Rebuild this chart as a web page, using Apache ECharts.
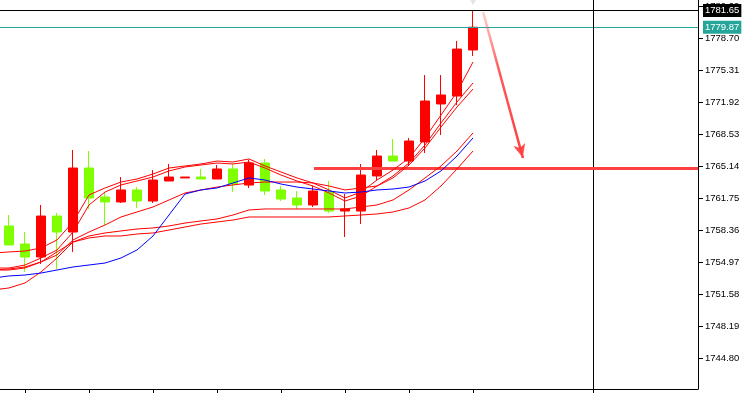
<!DOCTYPE html>
<html>
<head>
<meta charset="utf-8">
<script src="https://cdn.jsdelivr.net/npm/echarts@6/dist/echarts.min.js"></script>
<style>
  html, body { margin: 0; padding: 0; background: #fff; }
  #main { width: 754px; height: 393px; }
</style>
</head>
<body>
<div id="main"></div>
<script>
// candles: [open, close, low, high], red = up, green = down
const candles = [
  [1758.84, 1756.83, 1756.83, 1760.00],
  [1756.93, 1755.56, 1753.97, 1758.20],
  [1755.56, 1759.89, 1754.82, 1761.06],
  [1759.89, 1758.20, 1754.29, 1760.21],
  [1758.20, 1764.97, 1756.09, 1766.88],
  [1764.97, 1761.80, 1760.64, 1766.77],
  [1761.91, 1761.38, 1758.94, 1762.43],
  [1761.38, 1762.65, 1761.27, 1764.02],
  [1762.65, 1761.48, 1760.74, 1762.96],
  [1761.48, 1763.70, 1761.27, 1764.76],
  [1763.60, 1764.02, 1763.60, 1765.40],
  [1763.92, 1764.02, 1763.92, 1764.02],
  [1764.02, 1763.81, 1763.81, 1764.87],
  [1763.81, 1764.87, 1763.81, 1765.29],
  [1764.87, 1763.28, 1762.43, 1765.40],
  [1763.17, 1765.50, 1762.86, 1765.82],
  [1765.50, 1762.54, 1762.12, 1765.93],
  [1762.65, 1761.69, 1761.48, 1763.07],
  [1761.80, 1761.06, 1760.64, 1762.54],
  [1761.06, 1762.54, 1760.85, 1763.07],
  [1762.43, 1760.42, 1760.21, 1763.60],
  [1760.42, 1760.64, 1757.67, 1762.22],
  [1760.42, 1764.23, 1759.05, 1765.40],
  [1764.13, 1766.24, 1763.70, 1766.88],
  [1766.24, 1765.71, 1765.71, 1768.04],
  [1765.71, 1767.83, 1765.19, 1768.15],
  [1767.73, 1772.06, 1766.56, 1774.81],
  [1771.75, 1772.70, 1768.46, 1774.81],
  [1772.59, 1777.56, 1771.64, 1778.41],
  [1777.46, 1779.87, 1776.82, 1781.65]
];

// indicator lines, first value belongs to the bar just left of the view
const red1 = [1755.98, 1756.09, 1756.19, 1756.51, 1757.36, 1759.26, 1762.12, 1762.86, 1763.49, 1763.81, 1764.34, 1764.97, 1765.19, 1765.40, 1765.71, 1765.61, 1765.93, 1765.19, 1764.55, 1763.92, 1763.39, 1762.65, 1761.80, 1762.43, 1763.70, 1764.76, 1766.03, 1768.15, 1770.58, 1773.02, 1776.19];
const red2 = [1754.39, 1754.39, 1754.71, 1755.45, 1756.30, 1758.20, 1761.06, 1762.43, 1763.18, 1763.60, 1764.02, 1764.66, 1765.08, 1765.29, 1765.50, 1765.40, 1765.61, 1764.97, 1764.23, 1763.60, 1763.07, 1762.33, 1761.48, 1762.01, 1763.07, 1764.13, 1765.50, 1767.41, 1769.74, 1771.96, 1773.97];
const red3 = [1754.18, 1754.18, 1754.39, 1755.03, 1755.77, 1757.36, 1758.20, 1758.94, 1759.79, 1760.32, 1760.85, 1761.59, 1762.33, 1762.65, 1762.96, 1763.18, 1763.39, 1763.49, 1763.49, 1763.49, 1763.39, 1763.07, 1762.65, 1762.86, 1763.07, 1763.92, 1765.29, 1767.09, 1769.31, 1771.43, 1773.33];
const red4 = [1754.18, 1754.29, 1754.50, 1755.03, 1756.09, 1757.14, 1757.78, 1758.10, 1758.31, 1758.52, 1758.63, 1758.84, 1759.15, 1759.37, 1759.58, 1760.00, 1760.53, 1760.64, 1760.64, 1760.64, 1760.64, 1760.64, 1760.64, 1760.85, 1761.06, 1761.59, 1762.65, 1763.92, 1765.19, 1766.77, 1768.68];
const red5 = [1752.07, 1752.28, 1752.81, 1753.97, 1755.45, 1757.14, 1757.57, 1757.78, 1757.78, 1757.99, 1758.10, 1758.41, 1758.73, 1759.05, 1759.26, 1759.47, 1759.79, 1759.79, 1759.79, 1759.79, 1759.79, 1759.79, 1759.90, 1760.00, 1760.11, 1760.32, 1760.74, 1761.59, 1763.07, 1764.87, 1766.77];
const blue = [1753.33, 1753.55, 1753.65, 1753.86, 1754.18, 1754.50, 1754.71, 1754.92, 1755.45, 1756.30, 1757.78, 1760.00, 1762.22, 1762.65, 1762.86, 1763.39, 1763.92, 1763.70, 1763.28, 1762.96, 1762.75, 1762.54, 1762.33, 1762.43, 1762.65, 1762.75, 1762.96, 1763.60, 1764.66, 1766.24, 1768.15];

const priceTicks = [1744.80, 1748.19, 1751.58, 1754.97, 1758.36, 1761.75, 1765.14, 1768.53, 1771.92, 1775.31, 1778.70, 1782.09];
const timeTicks = [1, 5, 9, 13, 17, 21, 25, 29, 36.5];

const crossPrice = 1781.65;
const crossBar = 36.5;
const bidPrice = 1779.87;
const levelPrice = 1765.0;
const levelFrom = 19.06;
const arrowFrom = [29.63, 1781.48];
const arrowTo = [32.12, 1766.03];

const yMin = 1741.59, yMax = 1782.75;
const xMin = -0.5625, xMax = 43.0625;

function toLine(arr) {
  return arr.map((v, i) => [i - 1, v]);
}

function lineSeries(data, color) {
  return {
    type: 'line',
    data: toLine(data),
    showSymbol: false,
    symbol: 'none',
    lineStyle: { color: color, width: 1 },
    z: 5,
    animation: false,
    silent: true
  };
}

const priceLabel = {
  show: true, position: 'end', distance: 5,
  color: '#fff',
  fontFamily: 'Liberation Sans', fontSize: 9.5, padding: [2, 2, 1, 2]
};

const chart = echarts.init(document.getElementById('main'), null, { renderer: 'canvas' });

const option = {
  animation: false,
  backgroundColor: '#ffffff',
  grid: { left: 0, right: 56, top: 0, bottom: 4, containLabel: false },
  xAxis: {
    type: 'value',
    min: xMin,
    max: xMax,
    axisLine: { show: true, onZero: false, lineStyle: { color: '#000', width: 1 } },
    axisTick: { show: true, customValues: timeTicks, length: 5, lineStyle: { color: '#000' } },
    axisLabel: { show: false },
    splitLine: { show: false }
  },
  yAxis: {
    type: 'value',
    position: 'right',
    min: yMin,
    max: yMax,
    axisLine: { show: true, onZero: false, lineStyle: { color: '#000', width: 1 } },
    axisTick: { show: true, customValues: priceTicks, length: 5, lineStyle: { color: '#000' } },
    axisLabel: {
      customValues: priceTicks,
      formatter: v => v.toFixed(2),
      color: '#000',
      fontFamily: 'Liberation Sans',
      fontSize: 9.5,
      margin: 7
    },
    splitLine: { show: false }
  },
  series: [
    {
      type: 'candlestick',
      data: candles.map((c, i) => [i, c[0], c[1], c[2], c[3]]),
      encode: { x: 0, y: [1, 2, 3, 4] },
      barWidth: 10,
      itemStyle: {
        color: '#ff0000',
        color0: '#7fff00',
        borderColor: '#ff0000',
        borderColor0: '#7fff00',
        borderWidth: 1
      },
      z: 3,
      silent: true,
      markLine: {
        silent: true,
        symbol: 'none',
        animation: false,
        data: [
          {
            yAxis: crossPrice,
            lineStyle: { color: '#000', width: 1, type: 'solid' },
            label: Object.assign({}, priceLabel, { formatter: crossPrice.toFixed(2), backgroundColor: '#000' })
          },
          {
            yAxis: bidPrice,
            lineStyle: { color: '#26a69a', width: 1, type: 'solid' },
            label: Object.assign({}, priceLabel, { formatter: bidPrice.toFixed(2), backgroundColor: '#26a69a' })
          },
          {
            xAxis: crossBar,
            lineStyle: { color: '#000', width: 1, type: 'solid' },
            label: { show: false }
          },
          [
            { coord: [levelFrom, levelPrice] },
            { coord: [xMax, levelPrice] }
          ].map(p => Object.assign(p, { lineStyle: { color: '#ff4040', width: 3, type: 'solid' }, label: { show: false } })),
          [
            { coord: arrowFrom, symbol: 'none' },
            { coord: arrowTo, symbol: 'arrow', symbolSize: [9, 14] }
          ].map(p => Object.assign(p, {
            lineStyle: {
              type: 'solid', width: 2.5,
              color: new echarts.graphic.LinearGradient(0, 0, 0, 1, [
                { offset: 0, color: 'rgba(255,80,80,0.25)' },
                { offset: 0.4, color: 'rgba(255,60,60,0.85)' },
                { offset: 1, color: '#ff3c3c' }
              ])
            },
            itemStyle: { color: '#ff4040' },
            label: { show: false }
          }))
        ]
      }
    },
    lineSeries(red1, '#ff0000'),
    lineSeries(red2, '#ff0000'),
    lineSeries(red3, '#ff0000'),
    lineSeries(red4, '#ff0000'),
    lineSeries(red5, '#ff0000'),
    lineSeries(blue, '#0000ff'),
    {
      type: 'scatter',
      data: [[29, yMax]],
      symbol: 'triangle',
      symbolRotate: 180,
      symbolSize: [12, 10],
      itemStyle: { color: '#dedbe6' },
      clip: true,
      silent: true,
      z: 2
    }
  ]
};

chart.setOption(option);
</script>
</body>
</html>
